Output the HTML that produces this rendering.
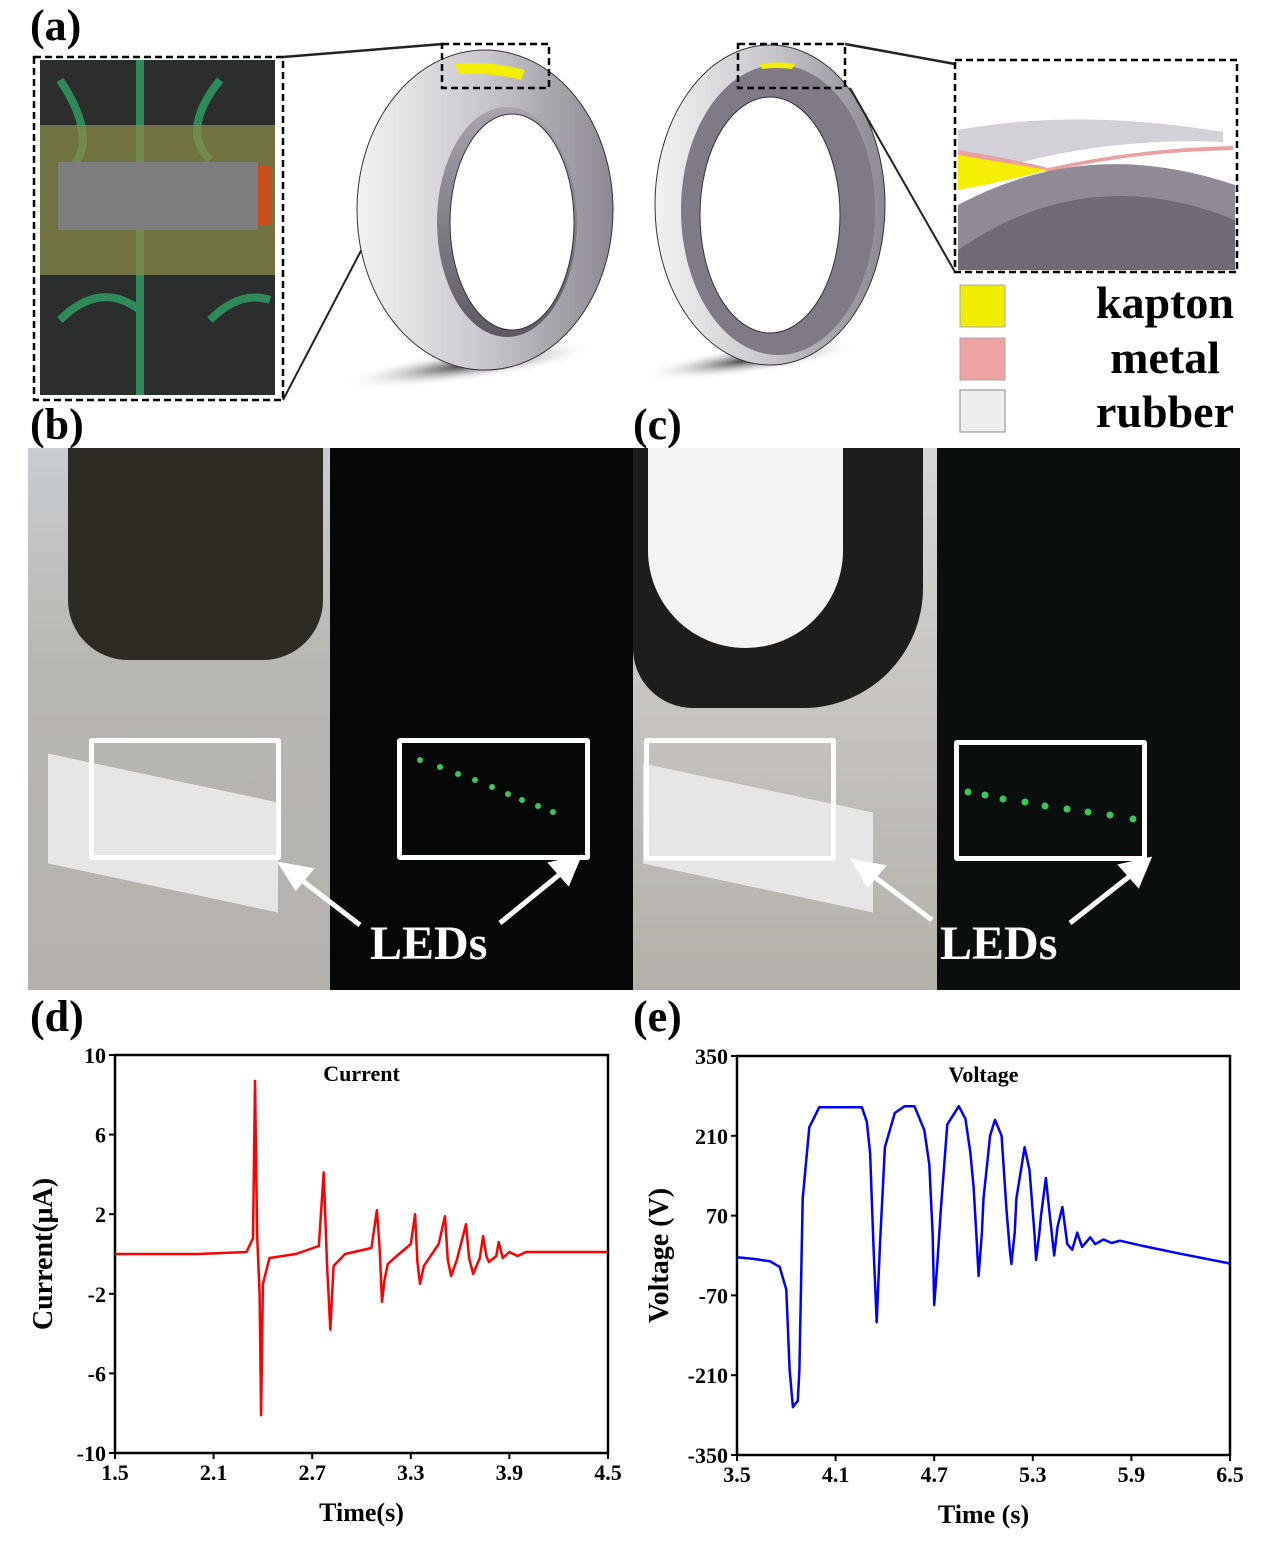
<!DOCTYPE html>
<html><head><meta charset="utf-8"><style>
body{margin:0;background:#fff;}
#root{position:relative;width:1269px;height:1549px;overflow:hidden;font-family:"Liberation Serif",serif;font-weight:bold;}
.lbl{position:absolute;font-size:44px;line-height:44px;color:#000;}
.abs{position:absolute;}
.box{position:absolute;border:5px solid #fff;box-sizing:border-box;border-radius:3px;}
.leds{position:absolute;color:#fff;font-size:48px;}
</style></head><body>
<div id="root">
<div class="lbl" style="left:30px;top:4px">(a)</div>
<div class="lbl" style="left:30px;top:403px">(b)</div>
<div class="lbl" style="left:633px;top:403px">(c)</div>
<div class="lbl" style="left:30px;top:995px">(d)</div>
<div class="lbl" style="left:633px;top:995px">(e)</div>

<svg class="abs" style="left:0;top:0" width="1269" height="445">
<defs>
<linearGradient id="tg" x1="0" x2="1"><stop offset="0" stop-color="#f2f2f2"/><stop offset=".5" stop-color="#c9c6cc"/><stop offset="1" stop-color="#8d8891"/></linearGradient>
<radialGradient id="sh"><stop offset="0" stop-color="#333"/><stop offset="1" stop-color="#fff" stop-opacity="0"/></radialGradient>
<linearGradient id="ig" x1="0" y1="0" x2="0" y2="1"><stop offset="0" stop-color="#a9a4ad"/><stop offset="1" stop-color="#5d5862"/></linearGradient>
</defs>
<g>
<rect x="40" y="60" width="235" height="335" fill="#2b2e2c"/>
<path d="M60 80 q40 60 10 90 M220 80 q-40 50 -10 80 M60 320 q40 -40 80 -10 M210 320 q30 -30 60 -20 M140 60 v335" stroke="#2f8a5a" stroke-width="8" fill="none"/>
<rect x="40" y="125" width="235" height="150" fill="#8a8a48" opacity=".75"/>
<rect x="58" y="162" width="200" height="68" fill="#7d7f7e"/>
<rect x="258" y="165" width="14" height="60" fill="#c8501c"/>
</g>
<rect x="34" y="57" width="249" height="343" fill="none" stroke="#000" stroke-width="2.5" stroke-dasharray="7,4"/>
<line x1="283" y1="57" x2="443" y2="44" stroke="#222" stroke-width="2.5"/>
<line x1="283" y1="400" x2="446" y2="88" stroke="#222" stroke-width="2"/>
<ellipse cx="470" cy="365" rx="130" ry="16" fill="url(#sh)" transform="rotate(-8 470 365)"/>
<g>
<ellipse cx="485" cy="210" rx="128" ry="160" fill="url(#tg)" stroke="#333" stroke-width="1"/>
<ellipse cx="507" cy="222" rx="70" ry="115" fill="url(#ig)"/>
<ellipse cx="512" cy="222" rx="62" ry="108" fill="#fff" stroke="#333"/>
<path d="M455 64 q30 -4 70 6 l-4 10 q-30 -8 -62 -6z" fill="#f4ef00"/>
</g>
<rect x="442" y="44" width="107" height="44" fill="none" stroke="#000" stroke-width="2.5" stroke-dasharray="7,4"/>
<ellipse cx="750" cy="360" rx="110" ry="14" fill="url(#sh)" transform="rotate(-8 750 360)"/>
<g>
<ellipse cx="770" cy="205" rx="115" ry="160" fill="url(#tg)" stroke="#333"/>
<ellipse cx="778" cy="210" rx="97" ry="145" fill="#807a86"/>
<ellipse cx="770" cy="215" rx="70" ry="118" fill="#fff" stroke="#333"/>
<path d="M760 64 q20 -3 35 0 l-3 5 q-16 -2 -30 0z" fill="#f4ef00"/>
</g>
<rect x="738" y="44" width="107" height="44" fill="none" stroke="#000" stroke-width="2.5" stroke-dasharray="7,4"/>
<line x1="845" y1="44" x2="955" y2="64" stroke="#222" stroke-width="2.5"/>
<line x1="850" y1="88" x2="955" y2="272" stroke="#222" stroke-width="2"/>
<g>
<rect x="958" y="62" width="277" height="208" fill="#fff"/>
<path d="M958 130 q120 -22 265 2 v10 q-140 -6 -265 40z" fill="#d4d0d8"/>
<path d="M958 150 q60 10 90 18 q90 -20 185 -22 v4 q-100 2 -185 22 q-40 -8 -90 -14z" fill="#e8a0a0"/>
<path d="M958 155 l0 35 q45 -8 90 -20 z" fill="#f4ef00"/>
<path d="M958 205 q130 -70 277 -20 v85 h-277z" fill="#8f8a95"/>
<path d="M958 250 q130 -90 277 -30 v50 h-277z" fill="#6f6a74"/>
</g>
<rect x="955" y="60" width="282" height="212" fill="none" stroke="#000" stroke-width="2.5" stroke-dasharray="7,4"/>
<rect x="960" y="285" width="45" height="42" fill="#f0ec00" stroke="#aaa"/>
<rect x="960" y="338" width="45" height="42" fill="#eea3a3" stroke="#aaa"/>
<rect x="960" y="390" width="45" height="42" fill="#eeeeee" stroke="#888"/>
<text x="1234" y="318" text-anchor="end" font-size="46" font-weight="bold" font-family="Liberation Serif">kapton</text>
<text x="1220" y="373" text-anchor="end" font-size="46" font-weight="bold" font-family="Liberation Serif">metal</text>
<text x="1234" y="427" text-anchor="end" font-size="46" font-weight="bold" font-family="Liberation Serif">rubber</text>
</svg>

<div class="abs" style="left:28px;top:448px;width:302px;height:542px;background:linear-gradient(#c9cdd2 0%,#b8b6b0 40%,#b5b2ad 100%)">
<div class="abs" style="left:40px;top:0;width:255px;height:212px;background:#2d2b24;border-radius:0 0 60px 60px"></div>
<div class="abs" style="left:20px;top:330px;width:230px;height:110px;background:#e6e6e6;transform:skewY(12deg)"></div>
</div>
<div class="abs" style="left:330px;top:448px;width:303px;height:542px;background:#050807"></div>
<div class="box" style="left:89px;top:738px;width:192px;height:122px"></div>
<div class="box" style="left:397px;top:738px;width:193px;height:122px"></div>
<div class="leds" style="left:370px;top:916px">LEDs</div>
<div class="abs" style="left:633px;top:448px;width:304px;height:542px;background:linear-gradient(#d8d6d2,#b3b0aa)">
<div class="abs" style="left:0;top:0;width:290px;height:260px;background:#1e1d1b;border-radius:0 0 120px 60px"></div>
<div class="abs" style="left:15px;top:0;width:195px;height:200px;background:#f4f4f4;border-radius:0 0 100px 100px"></div>
<div class="abs" style="left:10px;top:340px;width:230px;height:100px;background:#e6e6e6;transform:skewY(12deg)"></div>
</div>
<div class="abs" style="left:937px;top:448px;width:303px;height:542px;background:#0a0e0d"></div>
<div class="box" style="left:644px;top:738px;width:192px;height:123px"></div>
<div class="box" style="left:954px;top:740px;width:193px;height:121px"></div>
<div class="leds" style="left:940px;top:916px">LEDs</div>
<svg class="abs" style="left:0;top:440px" width="1269" height="560">
<g stroke="#fff" stroke-width="5" fill="#fff">
<line x1="360" y1="485" x2="295" y2="435"/><polygon points="282,425 310,430 296,447"/>
<line x1="500" y1="483" x2="565" y2="430"/><polygon points="578,418 552,424 568,442"/>
<line x1="932" y1="480" x2="868" y2="432"/><polygon points="855,422 882,427 868,444"/>
<line x1="1070" y1="483" x2="1135" y2="432"/><polygon points="1148,420 1122,426 1138,444"/>
</g>
<g fill="#3ec55a">
<circle cx="420" cy="320" r="3"/><circle cx="440" cy="327" r="3"/><circle cx="458" cy="334" r="3"/><circle cx="475" cy="340" r="3"/><circle cx="492" cy="347" r="3"/><circle cx="508" cy="354" r="3"/><circle cx="522" cy="360" r="3"/><circle cx="538" cy="366" r="3"/><circle cx="553" cy="372" r="3"/>
<circle cx="968" cy="352" r="3.5"/><circle cx="985" cy="355" r="3.5"/><circle cx="1003" cy="359" r="3.5"/><circle cx="1025" cy="362" r="3.5"/><circle cx="1045" cy="366" r="3.5"/><circle cx="1067" cy="369" r="3.5"/><circle cx="1088" cy="372" r="3.5"/><circle cx="1110" cy="375" r="3.5"/><circle cx="1133" cy="379" r="3.5"/>
</g>
</svg>

<svg class="abs" style="left:0;top:1000px" width="1269" height="549" id="charts"></svg>
</div>
<script>
// Current chart data (d)
const curT = [1.5,2.0,2.3,2.34,2.352,2.365,2.38,2.389,2.40,2.44,2.6,2.74,2.77,2.79,2.81,2.83,2.9,3.06,3.094,3.11,3.125,3.14,3.16,3.20,3.30,3.326,3.34,3.356,3.38,3.47,3.508,3.525,3.545,3.58,3.636,3.655,3.68,3.72,3.74,3.76,3.775,3.82,3.835,3.86,3.9,3.95,4.0,4.5];
const curV = [0.0,0.0,0.1,0.8,8.7,1.0,-2.0,-8.1,-1.5,-0.2,0.0,0.4,4.1,-0.5,-3.8,-0.6,0.0,0.3,2.2,0.3,-2.4,-1.3,-0.5,-0.2,0.5,2.0,-0.4,-1.5,-0.6,0.5,1.9,-0.3,-1.1,-0.3,1.5,-0.2,-1.0,-0.2,0.9,-0.1,-0.4,-0.1,0.6,-0.2,0.1,-0.1,0.1,0.1];
const curTicksX = [1.5,2.1,2.7,3.3,3.9,4.5];
const curTicksY = [10,6,2,-2,-6,-10];
// Voltage chart data (e)
const volT = [3.5,3.6,3.7,3.76,3.8,3.82,3.84,3.85,3.87,3.88,3.9,3.94,4.0,4.26,4.29,4.31,4.33,4.35,4.37,4.40,4.46,4.52,4.58,4.64,4.67,4.69,4.70,4.72,4.74,4.78,4.85,4.89,4.92,4.94,4.96,4.97,4.99,5.0,5.04,5.07,5.11,5.14,5.16,5.17,5.19,5.20,5.25,5.28,5.31,5.32,5.34,5.35,5.38,5.40,5.43,5.45,5.48,5.51,5.54,5.57,5.60,5.65,5.68,5.73,5.78,5.83,5.95,6.2,6.5];
const volV = [-3,-6,-10,-20,-60,-200,-266,-262,-255,-200,100,225,260,260,235,180,20,-117,20,190,250,262,262,220,160,40,-87,-10,80,230,262,240,180,120,20,-36,40,100,210,238,210,80,10,-15,40,100,190,150,40,-8,40,70,136,80,0,50,85,20,10,40,15,32,20,28,22,26,18,3,-14];
const volTicksX = [3.5,4.1,4.7,5.3,5.9,6.5];
const volTicksY = [350,210,70,-70,-210,-350];

const NS = 'http://www.w3.org/2000/svg';
const svg = document.getElementById('charts');
function mk(tag, attrs, parent){const e=document.createElementNS(NS,tag);for(const k in attrs)e.setAttribute(k,attrs[k]);(parent||svg).appendChild(e);return e;}

function chart(cfg){
  const g = mk('g',{});
  
  
  const sx = v => cfg.x0 + (v - cfg.xmin)/(cfg.xmax-cfg.xmin)*(cfg.x1-cfg.x0);
  const sy = v => cfg.y1 - (v - cfg.ymin)/(cfg.ymax-cfg.ymin)*(cfg.y1-cfg.y0);
  const fr = mk('rect',{x:cfg.x0,y:cfg.y0,width:cfg.x1-cfg.x0,height:cfg.y1-cfg.y0,fill:'none',stroke:'#000','stroke-width':2.5},g);
  
  
  cfg.tx.forEach(v=>{
    const x=sx(v);
    mk('line',{x1:x,y1:cfg.y1,x2:x,y2:cfg.y1+6,stroke:'#000','stroke-width':2},g);
    const t=mk('text',{x:x,y:cfg.y1+27,'text-anchor':'middle','font-size':22,'font-weight':'bold','font-family':'Liberation Serif'},g);
    t.textContent=v.toFixed(1);
    
    
  });
  cfg.ty.forEach(v=>{
    const y=sy(v);
    mk('line',{x1:cfg.x0-6,y1:y,x2:cfg.x0,y2:y,stroke:'#000','stroke-width':2},g);
    const t=mk('text',{x:cfg.x0-9,y:y+8,'text-anchor':'end','font-size':22,'font-weight':'bold','font-family':'Liberation Serif'},g);
    t.textContent=String(v);
    
    
  });
  let d='';
  cfg.xs.forEach((v,i)=>{d+=(i?'L':'M')+sx(v).toFixed(1)+' '+sy(cfg.ys[i]).toFixed(1);});
  const p=mk('path',{d:d,fill:'none',stroke:cfg.color,'stroke-width':2.5,'stroke-linejoin':'round'},g);
  
  
  const ti=mk('text',{x:(cfg.x0+cfg.x1)/2,y:cfg.y0+26,'text-anchor':'middle','font-size':22,'font-weight':'bold','font-family':'Liberation Serif'},g);
  ti.textContent=cfg.title;
  
  
  const xl=mk('text',{x:(cfg.x0+cfg.x1)/2,y:cfg.y1+68,'text-anchor':'middle','font-size':26,'font-weight':'bold','font-family':'Liberation Serif'},g);
  xl.textContent=cfg.xlabel;
  
  
  const cy=(cfg.y0+cfg.y1)/2, cx=cfg.ylx;
  const yl=mk('text',{x:cx,y:cy,'text-anchor':'middle','font-size':28,'font-weight':'bold','font-family':'Liberation Serif',transform:'rotate(-90 '+cx+' '+cy+')'},g);
  yl.textContent=cfg.ylabel;
  
  
}
chart({name:'current-chart',x0:115,x1:608,y0:55,y1:453,xmin:1.5,xmax:4.5,ymin:-10,ymax:10,xs:curT,ys:curV,tx:curTicksX,ty:curTicksY,color:'#ff0000',title:'Current',xlabel:'Time(s)',ylabel:'Current(\u03bcA)',ylx:52});
chart({name:'voltage-chart',x0:737,x1:1230,y0:56,y1:455,xmin:3.5,xmax:6.5,ymin:-350,ymax:350,xs:volT,ys:volV,tx:volTicksX,ty:volTicksY,color:'#0000ff',title:'Voltage',xlabel:'Time (s)',ylabel:'Voltage (V)',ylx:668});
</script>
</body></html>
